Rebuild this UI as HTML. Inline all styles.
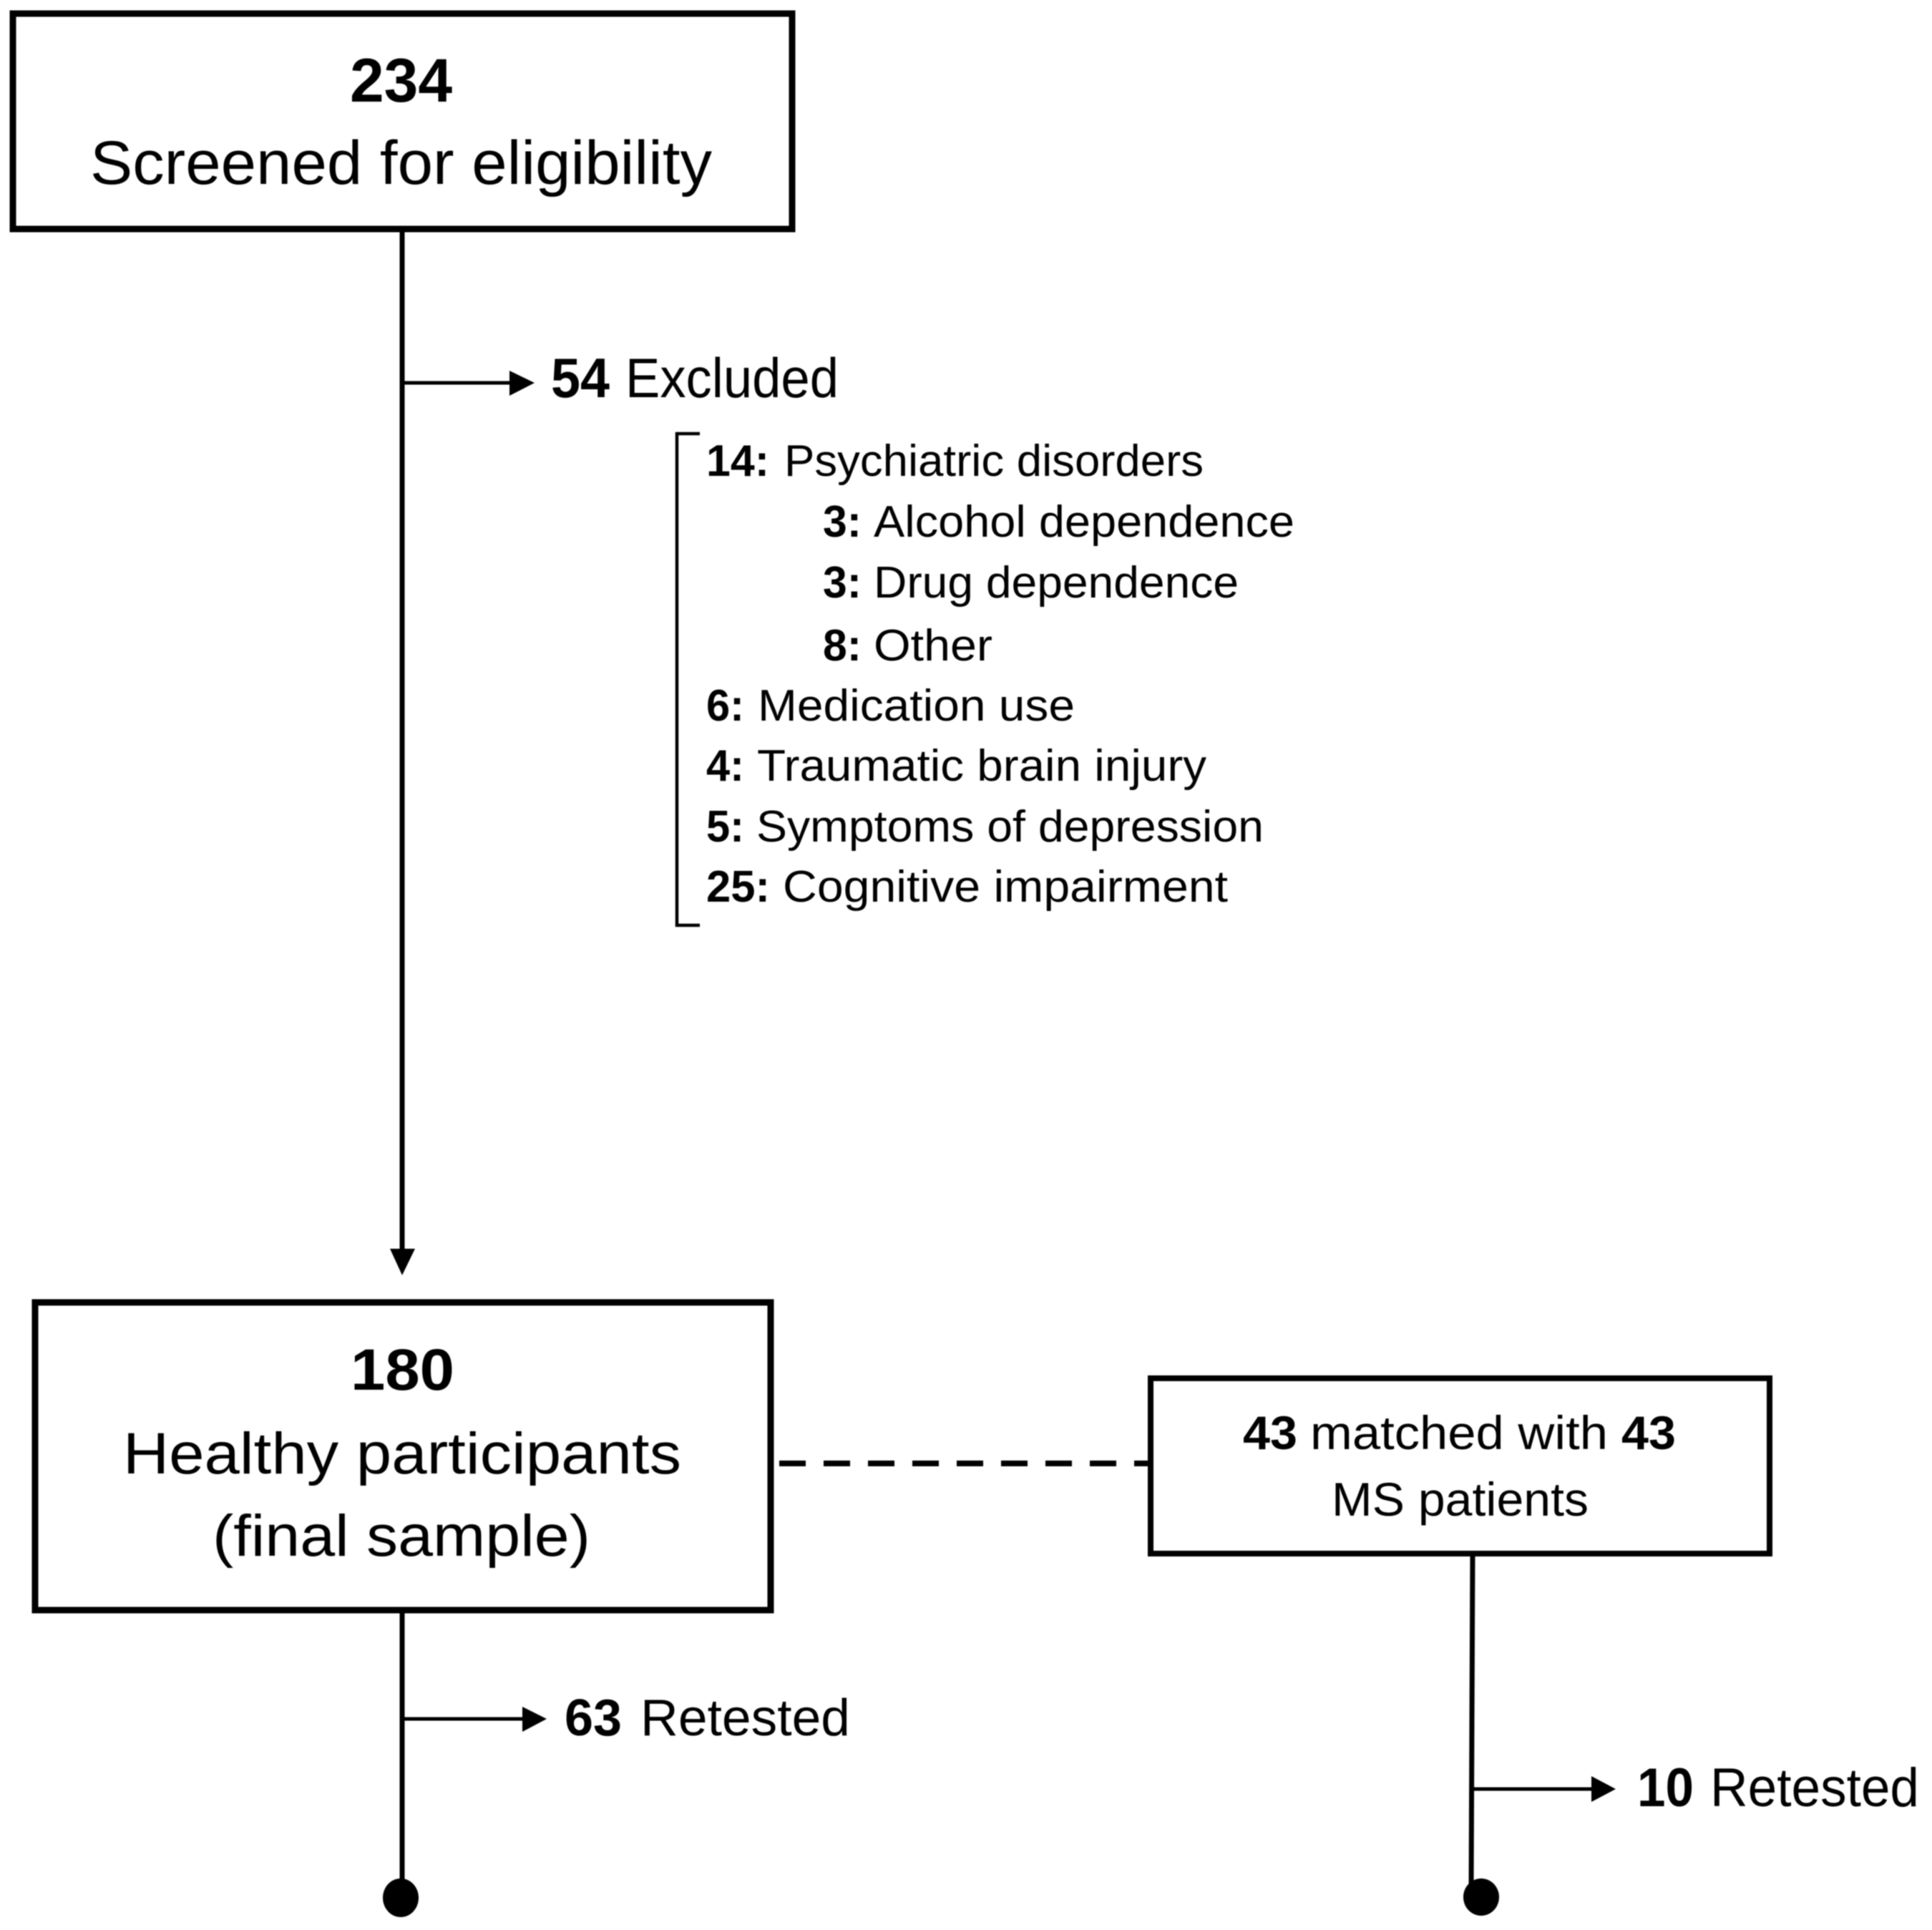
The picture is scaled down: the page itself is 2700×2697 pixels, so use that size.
<!DOCTYPE html>
<html>
<head>
<meta charset="utf-8">
<style>
html,body{margin:0;padding:0;background:#fff;width:2700px;height:2697px;overflow:hidden}
svg{display:block;filter:blur(0.9px)}
text{font-family:"Liberation Sans",sans-serif;fill:#000}
.b{font-weight:bold}
</style>
</head>
<body>
<svg width="2700" height="2697" viewBox="0 0 2700 2697" xmlns="http://www.w3.org/2000/svg">
<rect width="2700" height="2697" fill="#fff"/>

<!-- Box 1 -->
<rect x="18" y="19" width="1089" height="301" fill="none" stroke="#000" stroke-width="9"/>
<text class="b" x="489" y="142" font-size="86" textLength="143" lengthAdjust="spacingAndGlyphs">234</text>
<text x="126" y="257" font-size="86" textLength="869" lengthAdjust="spacingAndGlyphs">Screened for eligibility</text>

<!-- Stem 1 -->
<line x1="562" y1="322" x2="562" y2="1750" stroke="#000" stroke-width="7"/>
<polygon points="545,1745 580,1745 562,1782" fill="#000"/>
<line x1="563" y1="535" x2="717" y2="535" stroke="#000" stroke-width="5"/>
<polygon points="712,518 747,535 712,553" fill="#000"/>
<text class="b" x="770" y="555" font-size="78" textLength="82" lengthAdjust="spacingAndGlyphs">54</text>
<text x="874" y="555" font-size="78" textLength="298" lengthAdjust="spacingAndGlyphs">Excluded</text>

<!-- Bracket -->
<polyline points="978,606 946,606 946,1293 978,1293" fill="none" stroke="#000" stroke-width="4.5"/>

<!-- List -->
<g font-size="62">
<text class="b" x="987" y="665" textLength="88" lengthAdjust="spacingAndGlyphs">14:</text>
<text x="1096" y="665" textLength="586" lengthAdjust="spacingAndGlyphs">Psychiatric disorders</text>
<text class="b" x="1150" y="750" textLength="54" lengthAdjust="spacingAndGlyphs">3:</text>
<text x="1221" y="750" textLength="588" lengthAdjust="spacingAndGlyphs">Alcohol dependence</text>
<text class="b" x="1150" y="835" textLength="54" lengthAdjust="spacingAndGlyphs">3:</text>
<text x="1221" y="835" textLength="510" lengthAdjust="spacingAndGlyphs">Drug dependence</text>
<text class="b" x="1150" y="923" textLength="54" lengthAdjust="spacingAndGlyphs">8:</text>
<text x="1221" y="923" textLength="166" lengthAdjust="spacingAndGlyphs">Other</text>
<text class="b" x="987" y="1007" textLength="53" lengthAdjust="spacingAndGlyphs">6:</text>
<text x="1059" y="1007" textLength="443" lengthAdjust="spacingAndGlyphs">Medication use</text>
<text class="b" x="987" y="1091" textLength="53" lengthAdjust="spacingAndGlyphs">4:</text>
<text x="1058" y="1091" textLength="628" lengthAdjust="spacingAndGlyphs">Traumatic brain injury</text>
<text class="b" x="987" y="1176" textLength="53" lengthAdjust="spacingAndGlyphs">5:</text>
<text x="1057" y="1176" textLength="709" lengthAdjust="spacingAndGlyphs">Symptoms of depression</text>
<text class="b" x="987" y="1260" textLength="89" lengthAdjust="spacingAndGlyphs">25:</text>
<text x="1094" y="1260" textLength="622" lengthAdjust="spacingAndGlyphs">Cognitive impairment</text>
</g>

<!-- Box 2 -->
<rect x="49" y="1820" width="1028" height="430" fill="none" stroke="#000" stroke-width="9"/>
<text class="b" x="490" y="1942" font-size="82" textLength="145" lengthAdjust="spacingAndGlyphs">180</text>
<text x="172" y="2059" font-size="82" textLength="780" lengthAdjust="spacingAndGlyphs">Healthy participants</text>
<text x="297" y="2174" font-size="82" textLength="528" lengthAdjust="spacingAndGlyphs">(final sample)</text>

<!-- Dashed link -->
<line x1="1089" y1="2045" x2="1608" y2="2045" stroke="#000" stroke-width="8" stroke-dasharray="37 25"/>

<!-- Box 3 -->
<rect x="1608" y="1926" width="865" height="245" fill="none" stroke="#000" stroke-width="8"/>
<text class="b" x="1737" y="2025" font-size="66" textLength="76" lengthAdjust="spacingAndGlyphs">43</text>
<text x="1831" y="2025" font-size="66" textLength="416" lengthAdjust="spacingAndGlyphs">matched with</text>
<text class="b" x="2266" y="2025" font-size="66" textLength="76" lengthAdjust="spacingAndGlyphs">43</text>
<text x="1861" y="2118" font-size="66" textLength="359" lengthAdjust="spacingAndGlyphs">MS patients</text>

<!-- Stem 2 -->
<line x1="562" y1="2250" x2="562" y2="2640" stroke="#000" stroke-width="7"/>
<ellipse cx="560" cy="2652" rx="25" ry="27" fill="#000"/>
<line x1="564" y1="2402" x2="735" y2="2402" stroke="#000" stroke-width="5"/>
<polygon points="730,2385 764,2402 730,2420" fill="#000"/>
<text class="b" x="789" y="2425" font-size="72" textLength="80" lengthAdjust="spacingAndGlyphs">63</text>
<text x="895" y="2425" font-size="72" textLength="293" lengthAdjust="spacingAndGlyphs">Retested</text>

<!-- Stem 3 -->
<line x1="2058" y1="2172" x2="2056" y2="2640" stroke="#000" stroke-width="7"/>
<ellipse cx="2073" cy="2652" rx="25" ry="26" fill="#000" transform="translate(-3,-1)"/>
<line x1="2058" y1="2500" x2="2230" y2="2500" stroke="#000" stroke-width="5"/>
<polygon points="2224,2482 2258,2500 2224,2518" fill="#000"/>
<text class="b" x="2288" y="2524" font-size="76" textLength="79" lengthAdjust="spacingAndGlyphs">10</text>
<text x="2390" y="2524" font-size="76" textLength="292" lengthAdjust="spacingAndGlyphs">Retested</text>
</svg>
</body>
</html>
